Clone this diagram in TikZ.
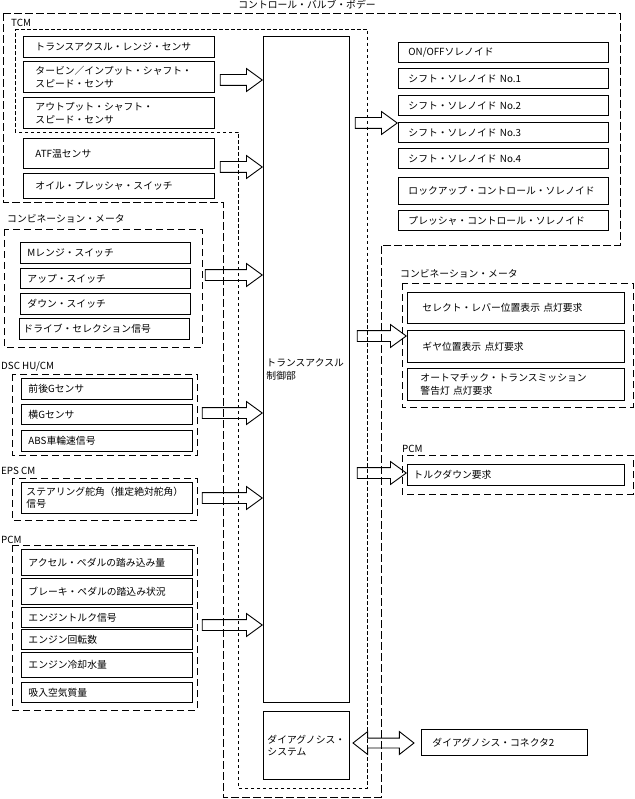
\documentclass[tikz,border=0pt]{standalone}
\usepackage{fontspec}
\setmainfont{Noto Sans CJK JP}
\usetikzlibrary{shapes.arrows}
\tikzstyle{signal}=[draw, line width=0.9pt, anchor=north west, align=left, inner ysep=0pt]
\tikzstyle{tcm signal}=[signal, text width=167pt, inner xsep=12pt]
\tikzstyle{solenoid}=[signal, text width=190pt, inner xsep=10pt]
\tikzstyle{switch}=[signal, text width=156pt, inner xsep=7pt]
\tikzstyle{module signal}=[signal, text width=157pt, inner xsep=7pt]
\tikzstyle{request}=[signal, text width=187pt, inner xsep=15pt]
\tikzstyle{group}=[draw, line width=0.8pt, dash pattern=on 7pt off 4pt]
\tikzstyle{group label}=[anchor=base west, inner sep=0pt]
\tikzstyle{body outline}=[draw, line width=0.8pt, dash pattern=on 8pt off 3pt]
\tikzstyle{tcm outline}=[draw, line width=0.8pt, dash pattern=on 3.5pt off 2.5pt]
\tikzstyle{flow}=[draw, line width=0.9pt, single arrow, single arrow head extend=6pt, single arrow tip angle=72, inner xsep=0pt, inner ysep=5pt, anchor=tip]
\tikzstyle{two way flow}=[draw, line width=0.9pt, double arrow, double arrow head extend=6.5pt, double arrow tip angle=76, inner xsep=0pt, inner ysep=4.5pt]

\begin{document}
\begin{tikzpicture}[x=1pt, y=-1pt, font=\fontsize{9.8}{12.5}\selectfont]
      \useasboundingbox (0,0) rectangle (634,799);

      % control valve body and TCM
      \draw[body outline] (3,13) -- (620,13) -- (620,245) -- (381,245) -- (381,797) -- (223,797) -- (223,202) -- (3,202) -- cycle;
      \draw[tcm outline] (15,29) -- (367,29) -- (367,788) -- (238,788) -- (238,132) -- (15,132) -- cycle;
      \node[anchor=base, inner sep=0pt] (body_label) at (307,9) {コントロール・バルブ・ボデー};
      \node[group label] (tcm_label) at (11,27) {TCM};

      \node[signal, text width=80pt, inner xsep=3pt, minimum height=666pt] (ctrl) at (263,36) {トランスアクスル\\制御部};
      \node[signal, text width=78pt, inner xsep=4pt, minimum height=68pt] (diag) at (263,711) {ダイアグノシス・\\システム};

      \node[tcm signal, minimum height=21pt] (range) at (23,36) {トランスアクスル・レンジ・センサ};
      \node[tcm signal, minimum height=31pt] (turbine) at (23,61) {タービン／インプット・シャフト・\\スピード・センサ};
      \node[tcm signal, minimum height=31pt] (output) at (23,97) {アウトプット・シャフト・\\スピード・センサ};
      \node[tcm signal, minimum height=30pt] (atf) at (23,138) {ATF温センサ};
      \node[tcm signal, minimum height=25pt] (oil) at (23,173) {オイル・プレッシャ・スイッチ};

      \node[solenoid, minimum height=20pt] (onoff) at (398,42) {ON/OFFソレノイド};
      \node[solenoid, minimum height=20pt] (shift1) at (398,68) {シフト・ソレノイド No.1};
      \node[solenoid, minimum height=20pt] (shift2) at (398,95) {シフト・ソレノイド No.2};
      \node[solenoid, minimum height=20pt] (shift3) at (398,122) {シフト・ソレノイド No.3};
      \node[solenoid, minimum height=20pt] (shift4) at (398,148) {シフト・ソレノイド No.4};
      \node[solenoid, minimum height=27pt] (lockup) at (398,177) {ロックアップ・コントロール・ソレノイド};
      \node[solenoid, minimum height=20pt] (pressure) at (398,210) {プレッシャ・コントロール・ソレノイド};

      % combination meter (in)
      \draw[group] (4,229) rectangle (202,347);
      \node[group label] (meter_in_label) at (7,223) {コンビネーション・メータ};
      \node[switch, minimum height=21pt] (mrange) at (20,242) {Mレンジ・スイッチ};
      \node[switch, minimum height=20pt] (up) at (20,268) {アップ・スイッチ};
      \node[switch, minimum height=21pt] (down) at (20,293) {ダウン・スイッチ};
      \node[signal, text width=162pt, inner xsep=4pt, minimum height=21pt] (drive) at (19,318) {ドライブ・セレクション信号};

      % DSC HU/CM
      \draw[group] (12,374) rectangle (197,455);
      \node[group label] (dsc_label) at (1,369) {DSC HU/CM};
      \node[module signal, minimum height=21pt] (longg) at (21,378) {前後Gセンサ};
      \node[module signal, minimum height=20pt] (latg) at (21,404) {横Gセンサ};
      \node[module signal, minimum height=21pt] (abs) at (21,430) {ABS車輪速信号};

      % EPS CM
      \draw[group] (12,478) rectangle (197,520);
      \node[group label] (eps_label) at (1,474) {EPS CM};
      \node[signal, text width=161pt, inner xsep=5pt, minimum height=31pt] (steer) at (21,482) {ステアリング舵角（推定絶対舵角）\\信号};

      % PCM (in)
      \draw[group] (12,545) rectangle (197,710);
      \node[group label] (pcm_in_label) at (1,543) {PCM};
      \node[module signal, minimum height=26pt] (accel) at (21,549) {アクセル・ペダルの踏み込み量};
      \node[module signal, minimum height=26pt] (brake) at (21,578) {ブレーキ・ペダルの踏込み状況};
      \node[module signal, minimum height=20pt] (torque) at (21,607) {エンジントルク信号};
      \node[module signal, minimum height=20pt] (rpm) at (21,629) {エンジン回転数};
      \node[module signal, minimum height=25pt] (coolant) at (21,652) {エンジン冷却水量};
      \node[module signal, minimum height=20pt] (air) at (21,682) {吸入空気質量};

      % combination meter (out)
      \draw[group] (402,283) rectangle (633,407);
      \node[group label] (meter_out_label) at (400,277) {コンビネーション・メータ};
      \node[request, minimum height=31pt] (lever) at (407,292) {セレクト・レバー位置表示 点灯要求};
      \node[request, minimum height=32pt] (gear) at (407,330) {ギヤ位置表示 点灯要求};
      \node[signal, text width=191pt, inner xsep=13pt, minimum height=32pt] (warning) at (407,368) {オートマチック・トランスミッション\\警告灯 点灯要求};

      % PCM (out)
      \draw[group] (402,455) rectangle (633,494);
      \node[group label] (pcm_out_label) at (402,452) {PCM};
      \node[signal, text width=205pt, inner xsep=6pt, minimum height=21pt] (torquedown) at (407,464) {トルクダウン要求};

      \node[signal, text width=144pt, inner xsep=11pt, minimum height=26pt] (connector) at (421,729) {ダイアグノシス・コネクタ2};

      % arrows
      \node[flow, minimum height=42pt] (f_tcm) at (ctrl.west |- 0,80) {};
      \node[flow, minimum height=42pt] (f_body) at (ctrl.west |- 0,167) {};
      \node[flow, minimum height=57pt] (f_meter) at (ctrl.west |- 0,275) {};
      \node[flow, minimum height=60pt] (f_dsc) at (ctrl.west |- 0,413) {};
      \node[flow, minimum height=60pt] (f_eps) at (ctrl.west |- 0,498) {};
      \node[flow, minimum height=60pt] (f_pcm) at (ctrl.west |- 0,625) {};
      \node[flow, minimum height=42pt] (f_sol) at (shift3.west |- 0,123) {};
      \node[flow, minimum height=49pt] (f_lamp) at (lever.west |- 0,336) {};
      \node[flow, minimum height=49pt] (f_down) at (torquedown.west |- 0,473) {};
      \node[two way flow, minimum height=61pt] (f_diag) at (383.5,743) {};
    \end{tikzpicture}
\end{document}
